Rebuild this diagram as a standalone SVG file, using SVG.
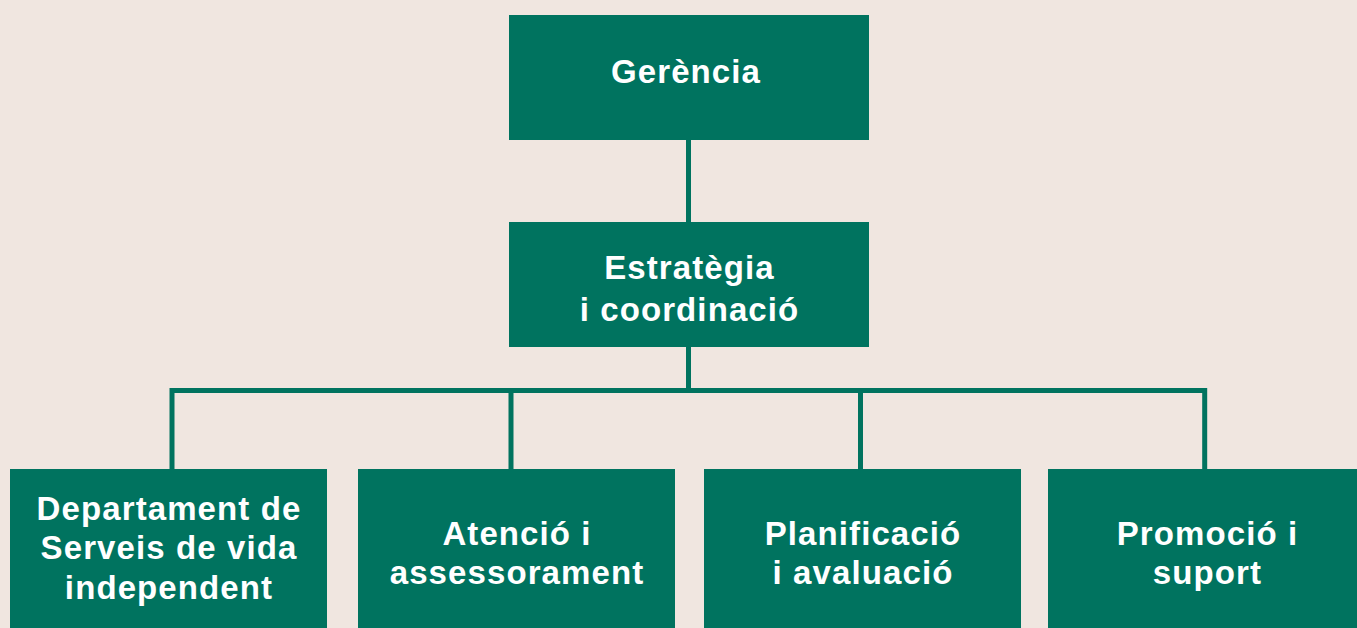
<svg xmlns="http://www.w3.org/2000/svg" width="1357" height="628" viewBox="0 0 1357 628">
<style>
.box{fill:#00735F}
.lbl{fill:#FFFFFF;font-family:"Liberation Sans",Arial,sans-serif;font-weight:bold;font-size:33px;letter-spacing:1.1px;text-anchor:middle}
.con{stroke:#00735F;stroke-width:5;fill:none}
</style>
<rect width="1357" height="628" fill="#F0E6E0"/>
<g id="connectors">
<line class="con" x1="688.5" y1="140" x2="688.5" y2="222"/>
<line class="con" x1="688.5" y1="347" x2="688.5" y2="390.5"/>
<polyline class="con" points="172,469 172,390.5 1204.7,390.5 1204.7,469"/>
<line class="con" x1="511" y1="390.5" x2="511" y2="469"/>
<line class="con" x1="860.5" y1="390.5" x2="860.5" y2="469"/>
</g>
<g id="gerencia">
<rect class="box" x="509" y="15" width="360" height="125"/>
<text class="lbl" x="686" y="83">Gerència</text>
</g>
<g id="estrategia">
<rect class="box" x="509" y="222" width="360" height="125"/>
<text class="lbl" x="689.5" y="279">Estratègia</text>
<text class="lbl" x="689.5" y="320.5">i coordinació</text>
</g>
<g id="departament">
<rect class="box" x="10" y="469" width="317" height="170"/>
<text class="lbl" x="169" y="519.5">Departament de</text>
<text class="lbl" x="169" y="559">Serveis de vida</text>
<text class="lbl" x="169" y="598.5">independent</text>
</g>
<g id="atencio">
<rect class="box" x="358" y="469" width="317" height="170"/>
<text class="lbl" x="517" y="544.5">Atenció i</text>
<text class="lbl" x="517" y="583.5">assessorament</text>
</g>
<g id="planificacio">
<rect class="box" x="704" y="469" width="317" height="170"/>
<text class="lbl" x="863" y="544.5">Planificació</text>
<text class="lbl" x="863" y="583.5">i avaluació</text>
</g>
<g id="promocio">
<rect class="box" x="1048" y="469" width="317" height="170"/>
<text class="lbl" x="1207.5" y="544.5">Promoció i</text>
<text class="lbl" x="1207.5" y="583.5">suport</text>
</g>
</svg>
